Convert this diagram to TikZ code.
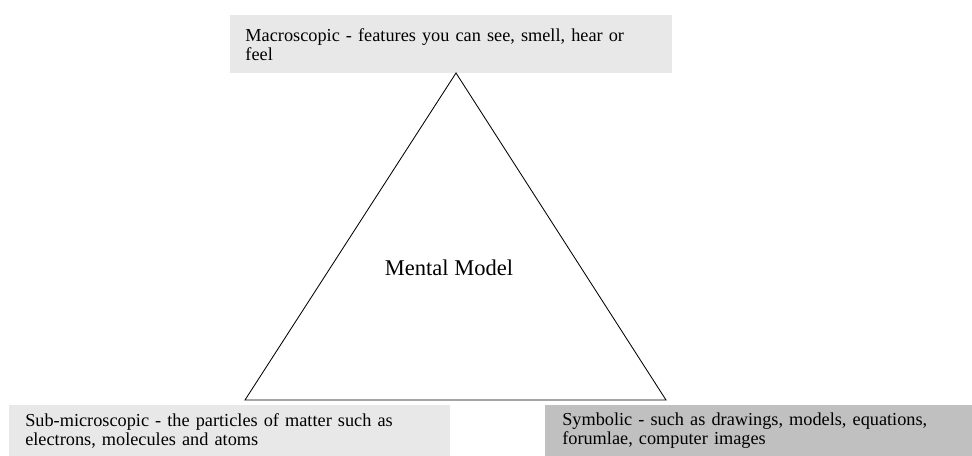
\documentclass[tikz,border=0pt]{standalone}
\usepackage{fontspec}
\setmainfont{Liberation Serif}
\usetikzlibrary{positioning}
\definecolor{boxlight}{HTML}{E8E8E8}
\definecolor{boxdark}{HTML}{C0C0C0}

\begin{document}
\begin{tikzpicture}
    [
      levelbox/.style = {anchor=north west, inner xsep=0.38cm, inner ysep=0pt,
        align=left, font=\fontsize{13}{13.6}\selectfont},
    ]
    \useasboundingbox (0,0) rectangle (24.3,11.4);

    % the three levels
    \node[levelbox, fill=boxlight, minimum width=11.05cm, minimum height=1.45cm,
      text width=11.05cm-0.76cm] (macro) at (5.75,11.025)
      {Macroscopic - features you can see, smell, hear or\\feel};
    \node[levelbox, fill=boxlight, minimum width=11.025cm, minimum height=1.275cm,
      text width=11.025cm-0.8cm, inner xsep=0.4cm] (submicro) at (0.225,1.275)
      {Sub-microscopic - the particles of matter such as\\electrons, molecules and atoms};
    \node[levelbox, fill=boxdark, minimum width=10.675cm, minimum height=1.275cm,
      text width=10.675cm-0.85cm, inner xsep=0.425cm] (symbolic) at (13.625,1.275)
      {Symbolic - such as drawings, models, equations,\\forumlae, computer images};

    % triangle
    \coordinate (apex) at (11.4,9.575);
    \coordinate (left) at (6.125,1.4);
    \coordinate (right) at (16.65,1.4);
    \draw[line width=0.6pt, line join=miter] (apex) -- (left) -- (right) -- cycle;

    \node[font=\fontsize{16}{18}\selectfont] (model) at (11.225,4.7) {Mental Model};
  \end{tikzpicture}
\end{document}
